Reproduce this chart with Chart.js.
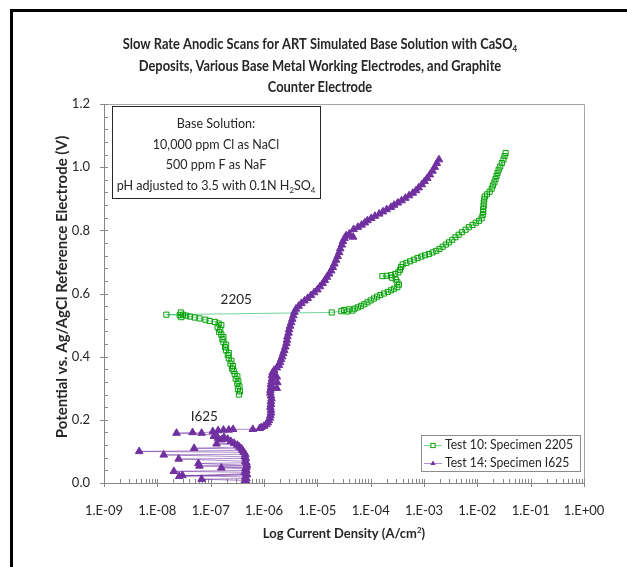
<!DOCTYPE html>
<html>
<head>
<meta charset="utf-8">
<script src="https://cdn.jsdelivr.net/npm/chart.js@4.4.1/dist/chart.umd.min.js"></script>
<style>
  html, body { margin: 0; padding: 0; background: #fff; width: 627px; height: 567px; overflow: hidden; }
  #frame { position: absolute; left: 10px; top: 9px; width: 700px; height: 700px;
           border-left: 3px solid #000; border-top: 3px solid #000; box-sizing: border-box; }
  #c { position: absolute; left: 0; top: 0; }
</style>
</head>
<body>
<div id="frame"></div>
<canvas id="c" width="627" height="567"></canvas>
<script>
// ---- Test 10: Specimen 2205 (log10 of current density in A/cm², potential in V) ----
const logCurrent2205 = [
  -6.47, -6.45, -6.49, -6.46, -6.50, -6.48, -6.53, -6.50, -6.55, -6.57,
  -6.60, -6.58, -6.63, -6.61, -6.66, -6.68, -6.66, -6.71, -6.73, -6.71,
  -6.76, -6.78, -6.76, -6.80, -6.84, -6.82, -6.87, -6.80, -6.85, -6.92,
  -7.02, -7.10, -7.21, -7.30, -7.39, -7.46, -7.52, -7.55, -7.56, -7.58,
  -7.83,
  -4.73, -4.55, -4.50, -4.44, -4.40, -4.34, -4.30, -4.24, -4.18, -4.12,
  -4.06, -4.00, -3.94, -3.88, -3.82, -3.75, -3.68, -3.62, -3.56, -3.50,
  -3.47, -3.50, -3.53, -3.60, -3.78, -3.70, -3.62, -3.54, -3.48, -3.45,
  -3.43, -3.40, -3.33, -3.26, -3.19, -3.12, -3.05, -2.98, -2.91, -2.84,
  -2.77, -2.71, -2.65, -2.59, -2.53, -2.47, -2.41, -2.35, -2.29, -2.22,
  -2.16, -2.09, -2.03, -1.97, -1.92, -1.90, -1.89, -1.89, -1.88, -1.88,
  -1.87, -1.86, -1.82, -1.77, -1.73, -1.71, -1.68, -1.66, -1.64, -1.62,
  -1.60, -1.57, -1.54, -1.51, -1.49, -1.47
];
const potential2205 = [
  0.280, 0.290, 0.298, 0.306, 0.315, 0.322, 0.330, 0.338, 0.345, 0.355,
  0.362, 0.370, 0.378, 0.387, 0.395, 0.405, 0.412, 0.420, 0.430, 0.438,
  0.446, 0.455, 0.462, 0.470, 0.478, 0.486, 0.493, 0.500, 0.505, 0.510,
  0.513, 0.517, 0.521, 0.524, 0.527, 0.530, 0.533, 0.525, 0.540, 0.531,
  0.533,
  0.540, 0.544, 0.548, 0.543, 0.550, 0.546, 0.552, 0.556, 0.561, 0.566,
  0.572, 0.578, 0.584, 0.590, 0.595, 0.600, 0.605, 0.610, 0.615, 0.620,
  0.628, 0.636, 0.644, 0.650, 0.655, 0.656, 0.658, 0.662, 0.667, 0.675,
  0.684, 0.692, 0.697, 0.702, 0.707, 0.712, 0.717, 0.721, 0.725, 0.730,
  0.735, 0.741, 0.748, 0.755, 0.762, 0.770, 0.778, 0.786, 0.794, 0.802,
  0.810, 0.817, 0.824, 0.830, 0.838, 0.848, 0.858, 0.868, 0.878, 0.888,
  0.898, 0.907, 0.914, 0.922, 0.932, 0.942, 0.952, 0.962, 0.972, 0.982,
  0.992, 1.002, 1.013, 1.024, 1.035, 1.045
];

// ---- Test 14: Specimen I625 ----
const logCurrent625 = [
  -6.33, -6.36, -7.17, -6.33, -6.35, -7.53, -6.32, -7.59, -6.33, -6.36,
  -7.69, -6.33, -6.35, -6.80, -6.33, -7.21, -6.32, -7.23, -6.33, -6.35,
  -7.60, -6.34, -6.36, -7.88, -6.35, -6.38, -8.34, -6.40, -6.42, -7.31,
  -6.46, -6.50, -6.89, -6.56, -6.62, -6.80, -6.68, -6.86, -6.75, -6.94,
  -6.90, -7.64, -7.34, -7.17, -6.96, -6.86, -6.76, -6.66, -6.58, -6.21,
  -6.08,
  -6.05, -6.00, -5.96, -5.93, -5.91, -5.89, -5.88, -5.87, -5.87, -5.88,
  -5.87, -5.87, -5.86, -5.87, -5.88, -5.88, -5.87, -5.76, -5.87, -5.75,
  -5.86, -5.85, -5.76, -5.85, -5.84, -5.81, -5.76, -5.72, -5.70, -5.68,
  -5.66, -5.64, -5.62, -5.60, -5.58, -5.57, -5.56, -5.54, -5.53, -5.51,
  -5.49, -5.47, -5.45, -5.43, -5.40, -5.35, -5.30, -5.24, -5.18, -5.12,
  -5.06, -5.00, -4.95, -4.90, -4.86, -4.82, -4.78, -4.74, -4.71, -4.68,
  -4.65, -4.62, -4.59, -4.57, -4.54, -4.52, -4.49, -4.46, -4.33, -4.40,
  -4.32, -4.24, -4.17, -4.11, -4.06, -3.99, -3.92, -3.84, -3.77, -3.70,
  -3.62, -3.56, -3.49, -3.42, -3.35, -3.28, -3.21, -3.15, -3.10, -3.04,
  -2.99, -2.94, -2.89, -2.84, -2.80, -2.76, -2.72
];
const potential625 = [
  0.004, 0.008, 0.012, 0.014, 0.019, 0.024, 0.026, 0.021, 0.030, 0.034,
  0.037, 0.040, 0.045, 0.048, 0.050, 0.054, 0.056, 0.062, 0.064, 0.069,
  0.076, 0.078, 0.083, 0.089, 0.091, 0.097, 0.100, 0.103, 0.108, 0.110,
  0.114, 0.120, 0.124, 0.126, 0.132, 0.137, 0.139, 0.142, 0.145, 0.148,
  0.152, 0.158, 0.160, 0.158, 0.163, 0.166, 0.168, 0.168, 0.170, 0.170,
  0.173,
  0.176, 0.180, 0.185, 0.191, 0.198, 0.206, 0.214, 0.222, 0.231, 0.240,
  0.249, 0.258, 0.267, 0.276, 0.285, 0.294, 0.303, 0.300, 0.312, 0.318,
  0.321, 0.330, 0.336, 0.340, 0.349, 0.357, 0.365, 0.373, 0.382, 0.391,
  0.400, 0.410, 0.420, 0.431, 0.442, 0.453, 0.464, 0.475, 0.486, 0.497,
  0.508, 0.519, 0.530, 0.541, 0.551, 0.560, 0.569, 0.577, 0.585, 0.594,
  0.603, 0.612, 0.622, 0.632, 0.642, 0.652, 0.662, 0.672, 0.683, 0.694,
  0.706, 0.718, 0.730, 0.742, 0.754, 0.765, 0.775, 0.783, 0.779, 0.789,
  0.803, 0.810, 0.817, 0.824, 0.831, 0.838, 0.845, 0.852, 0.859, 0.866,
  0.873, 0.880, 0.887, 0.894, 0.902, 0.910, 0.918, 0.926, 0.935, 0.945,
  0.955, 0.965, 0.976, 0.988, 1.000, 1.012, 1.024
];

// ---- axes ----
const xTickExponents = [-9, -8, -7, -6, -5, -4, -3, -2, -1, 0];
const xTickLabels = ['1.E-09', '1.E-08', '1.E-07', '1.E-06', '1.E-05', '1.E-04', '1.E-03', '1.E-02', '1.E-01', '1.E+00'];
const yTickLabels = ['0.0', '0.2', '0.4', '0.6', '0.8', '1.0', '1.2'];

// ---- text ----
const seriesNames = ['Test 10: Specimen 2205', 'Test 14: Specimen I625'];
const titleLines = [
  [['Slow Rate Anodic Scans for ART Simulated Base Solution with CaSO'], ['4', 'sub']],
  [['Deposits, Various Base Metal Working Electrodes, and Graphite']],
  [['Counter Electrode']]
];
const noteLines = [
  [['Base Solution:']],
  [['10,000 ppm Cl as NaCl']],
  [['500 ppm F as NaF']],
  [['pH adjusted to 3.5 with 0.1N H'], ['2', 'sub'], ['SO'], ['4', 'sub']]
];
const yTitle = 'Potential vs. Ag/AgCl Reference Electrode (V)';
const xTitle = [['Log Current Density (A/cm'], ['2', 'sup'], [')']];
const curveLabels = [
  { text: '2205', logX: -6.52, y: 0.58 },
  { text: 'I625', logX: -7.12, y: 0.21 }
];

const FONT = 'Lato, "Liberation Sans", sans-serif';
const TEXT = '#262626';
const GREEN = '#00a000';
const PURPLE = '#7030a0';

function toPoints(logs, vals) {
  return logs.map((l, i) => ({ x: Math.pow(10, l), y: vals[i] }));
}

// draws a line of text made of runs (some sub- or superscript), centred on cx,
// optionally narrowed horizontally by sx
function drawRich(ctx, parts, cx, cy, size, weight, color, sx) {
  sx = sx || 1;
  const small = size * 0.62;
  let w = 0;
  parts.forEach(p => {
    ctx.font = `${weight} ${p[1] ? small : size}px ${FONT}`;
    w += ctx.measureText(p[0]).width;
  });
  ctx.save();
  ctx.translate(cx, cy);
  ctx.scale(sx, 1);
  let x = -w / 2;
  ctx.fillStyle = color;
  ctx.textAlign = 'left';
  ctx.textBaseline = 'middle';
  parts.forEach(p => {
    ctx.font = `${weight} ${p[1] ? small : size}px ${FONT}`;
    const dy = p[1] === 'sub' ? size * 0.32 : p[1] === 'sup' ? -size * 0.3 : 0;
    ctx.fillText(p[0], x, dy);
    x += ctx.measureText(p[0]).width;
  });
  ctx.restore();
}

function drawMarker(ctx, style, x, y, r, color) {
  ctx.save();
  ctx.lineWidth = 1;
  ctx.strokeStyle = color;
  ctx.fillStyle = color;
  if (style === 'rect') {
    const s = r * Math.SQRT1_2;
    ctx.fillStyle = '#fff';
    ctx.fillRect(x - s, y - s, 2 * s, 2 * s);
    ctx.strokeRect(x - s, y - s, 2 * s, 2 * s);
  } else {
    ctx.beginPath();
    ctx.moveTo(x, y - r);
    ctx.lineTo(x + r * 0.87, y + r * 0.5);
    ctx.lineTo(x - r * 0.87, y + r * 0.5);
    ctx.closePath();
    ctx.fill();
  }
  ctx.restore();
}

const decorations = {
  id: 'decorations',
  beforeDatasetsDraw(chart) {
    const { ctx, chartArea: a, scales } = chart;
    const xs = scales.x, ys = scales.y;
    ctx.save();
    // plot frame (top and right)
    ctx.strokeStyle = '#a6a6a6';
    ctx.lineWidth = 1;
    ctx.beginPath();
    ctx.moveTo(a.left, a.top + 0.5); ctx.lineTo(a.right + 0.5, a.top + 0.5);
    ctx.lineTo(a.right + 0.5, a.bottom);
    ctx.stroke();
    // axes
    ctx.strokeStyle = '#868686';
    ctx.beginPath();
    ctx.moveTo(a.left + 0.5, a.top); ctx.lineTo(a.left + 0.5, a.bottom + 0.5);
    ctx.lineTo(a.right, a.bottom + 0.5);
    // y ticks: majors cross the axis, minors point inward
    for (let k = 0; k <= 30; k++) {
      const py = Math.round(ys.getPixelForValue(k * 0.04)) + 0.5;
      if (k % 5 === 0) { ctx.moveTo(a.left - 4, py); ctx.lineTo(a.left + 4, py); }
      else { ctx.moveTo(a.left, py); ctx.lineTo(a.left + 4, py); }
    }
    // x ticks
    xTickExponents.forEach(e => {
      const px = Math.round(xs.getPixelForValue(Math.pow(10, e))) + 0.5;
      ctx.moveTo(px, a.bottom - 4); ctx.lineTo(px, a.bottom + 4);
      if (e < 0) {
        for (let m = 2; m <= 9; m++) {
          const qx = Math.round(xs.getPixelForValue(m * Math.pow(10, e))) + 0.5;
          ctx.moveTo(qx, a.bottom - 4); ctx.lineTo(qx, a.bottom);
        }
      }
    });
    ctx.stroke();
    ctx.restore();
  },
  afterDraw(chart) {
    const { ctx, chartArea: a, scales } = chart;
    ctx.save();
    // chart title
    titleLines.forEach((ln, i) => drawRich(ctx, ln, 320, 44 + i * 21.5, 15.5, 'bold', TEXT, 0.83));
    // axis titles
    ctx.save();
    ctx.translate(62, 287);
    ctx.rotate(-Math.PI / 2);
    ctx.font = `bold 15px ${FONT}`;
    ctx.fillStyle = TEXT;
    ctx.textAlign = 'center';
    ctx.textBaseline = 'middle';
    ctx.fillText(yTitle, 0, 0);
    ctx.restore();
    drawRich(ctx, xTitle, (a.left + a.right) / 2, 534, 13.5, 'bold', TEXT, 0.96);

    // solution note box
    ctx.fillStyle = '#fff';
    ctx.fillRect(112, 106, 208, 92);
    ctx.strokeStyle = '#262626';
    ctx.lineWidth = 1;
    ctx.strokeRect(112.5, 106.5, 208, 92);
    noteLines.forEach((ln, i) => drawRich(ctx, ln, 216, 124 + i * 20.5, 13.5, 'normal', TEXT, 0.93));

    // curve labels
    curveLabels.forEach(l => {
      ctx.font = `13.5px ${FONT}`;
      ctx.fillStyle = TEXT;
      ctx.textAlign = 'center';
      ctx.textBaseline = 'middle';
      ctx.fillText(l.text, scales.x.getPixelForValue(Math.pow(10, l.logX)), scales.y.getPixelForValue(l.y));
    });

    // legend
    ctx.fillStyle = '#fff';
    ctx.fillRect(421, 435, 159, 36);
    ctx.strokeStyle = '#8c8c8c';
    ctx.strokeRect(421.5, 435.5, 159, 36);
    chart.data.datasets.forEach((ds, i) => {
      const y = 445 + i * 18;
      ctx.strokeStyle = ds.borderColor;
      ctx.lineWidth = 1;
      ctx.beginPath();
      ctx.moveTo(424, y + 0.5); ctx.lineTo(442, y + 0.5);
      ctx.stroke();
      drawMarker(ctx, ds.pointStyle, 433, y + 0.5, 3, ds.pointBorderColor);
      ctx.save();
      ctx.translate(445, y);
      ctx.scale(0.9, 1);
      ctx.font = `13.5px ${FONT}`;
      ctx.fillStyle = TEXT;
      ctx.textAlign = 'left';
      ctx.textBaseline = 'middle';
      ctx.fillText(seriesNames[i], 0, 0);
      ctx.restore();
    });
    ctx.restore();
  }
};

new Chart(document.getElementById('c'), {
  type: 'scatter',
  data: {
    datasets: [
      {
        label: seriesNames[0],
        data: toPoints(logCurrent2205, potential2205),
        showLine: true,
        borderColor: 'rgba(0,176,80,0.55)',
        borderWidth: 1,
        pointStyle: 'rect',
        pointRadius: 3.6,
        pointBorderColor: GREEN,
        pointBackgroundColor: 'rgba(255,255,255,0)',
        pointBorderWidth: 1,
        order: 1
      },
      {
        label: seriesNames[1],
        data: toPoints(logCurrent625, potential625),
        showLine: true,
        borderColor: 'rgba(112,48,160,0.55)',
        borderWidth: 1,
        pointStyle: 'triangle',
        pointRadius: 4.4,
        pointBorderColor: PURPLE,
        pointBackgroundColor: PURPLE,
        pointBorderWidth: 1,
        order: 0
      }
    ]
  },
  options: {
    responsive: false,
    animation: false,
    events: [],
    layout: { padding: { top: 104, right: 43, left: 0, bottom: 0 } },
    plugins: { legend: { display: false }, tooltip: { enabled: false }, title: { display: false } },
    scales: {
      x: {
        type: 'logarithmic',
        min: 1e-9,
        max: 1,
        afterFit: s => { s.height = 84; },
        afterBuildTicks: s => { s.ticks = xTickExponents.map(e => ({ value: Math.pow(10, e) })); },
        ticks: {
          autoSkip: false, maxRotation: 0, minRotation: 0, padding: 20,
          font: { family: FONT, size: 13 }, color: TEXT,
          callback: (v, i) => xTickLabels[i]
        },
        grid: { display: false, drawTicks: false },
        border: { display: false }
      },
      y: {
        min: 0,
        max: 1.2,
        afterFit: s => { s.width = 104; },
        ticks: {
          stepSize: 0.2, padding: 14,
          font: { family: FONT, size: 13 }, color: TEXT,
          callback: (v, i) => yTickLabels[i]
        },
        grid: { display: false, drawTicks: false },
        border: { display: false }
      }
    }
  },
  plugins: [decorations]
});
</script>
</body>
</html>
